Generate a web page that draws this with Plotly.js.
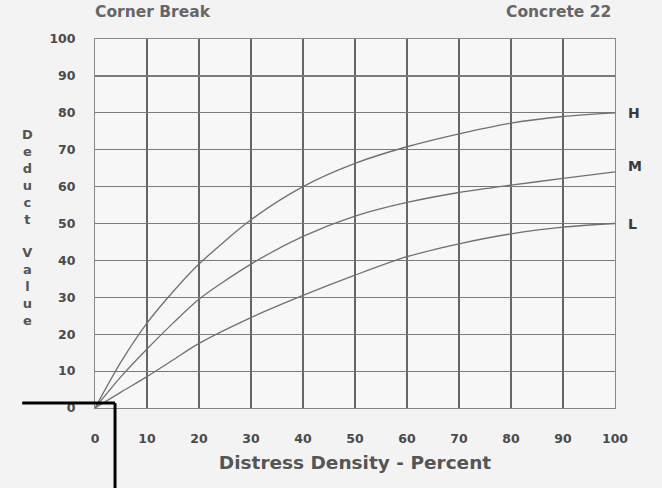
<!DOCTYPE html>
<html>
<head>
<meta charset="utf-8">
<script src="https://cdn.plot.ly/plotly-3.0.1.min.js"></script>
<style>html,body{margin:0;padding:0;background:#f3f3f3;}#chart{width:662px;height:488px;}</style>
</head>
<body>
<div id="chart"></div>
<script>
// Distress density (percent)
const density = [0, 5, 10, 15, 20, 30, 40, 50, 60, 70, 80, 90, 100];
// Deduct values per severity level
const highSeverity   = [0, 12.5, 23, 31.5, 39, 51, 60, 66.3, 70.8, 74.3, 77.2, 79, 80];
const mediumSeverity = [0, 8.5, 16, 23, 29.5, 39, 46.5, 52, 55.7, 58.4, 60.4, 62.2, 64];
const lowSeverity    = [0, 4.3, 8.5, 13, 17.5, 24.5, 30.5, 36, 41, 44.5, 47.2, 49, 50];
const severityLabels = ['H', 'M', 'L'];
const xTicks = [0, 10, 20, 30, 40, 50, 60, 70, 80, 90, 100];
const yTicks = [0, 10, 20, 30, 40, 50, 60, 70, 80, 90, 100];
const chartTitle = 'Corner Break';
const chartSubtitle = 'Concrete 22';
const xTitle = 'Distress Density - Percent';
const yTitleLetters = ['D','e','d','u','c','t','','V','a','l','u','e'];

const FONT = 'DejaVu Sans, Liberation Sans, Arial';
const series = [highSeverity, mediumSeverity, lowSeverity];
const lineStyle = {color: '#707070', width: 1.3, shape: 'spline', smoothing: 0.8};

const traces = series.map((vals, i) => ({
  x: density, y: vals, type: 'scatter', mode: 'lines',
  line: lineStyle, name: severityLabels[i], hoverinfo: 'x+y'
}));

const annotations = series.map((vals, i) => ({
  x: density[density.length - 1], y: vals[vals.length - 1] + (i === 1 ? 1.5 : 0),
  xref: 'x', yref: 'y', text: '<b>' + severityLabels[i] + '</b>', showarrow: false,
  xanchor: 'left', xshift: 11, font: {family: FONT, size: 14, color: '#3a3a3a'}
}));
annotations.push({
  xref: 'paper', yref: 'paper', x: 0, y: 1, xanchor: 'left', yanchor: 'bottom',
  yshift: 16, xshift: -2, text: '<b>' + chartTitle + '</b>', showarrow: false,
  font: {family: FONT, size: 15.5, color: '#666'}
});
annotations.push({
  xref: 'paper', yref: 'paper', x: 1, y: 1, xanchor: 'right', yanchor: 'bottom',
  yshift: 16, xshift: -2, text: '<b>' + chartSubtitle + '</b>', showarrow: false,
  font: {family: FONT, size: 15.5, color: '#666'}
});
annotations.push({
  xref: 'paper', yref: 'paper', x: -0.129, y: 0.489, xanchor: 'center', yanchor: 'middle',
  text: '<b>' + yTitleLetters.join('<br>') + '</b>', showarrow: false,
  font: {family: FONT, size: 13, color: '#555'}
});

const layout = {
  width: 662, height: 488,
  margin: {l: 95, r: 47, t: 39, b: 80},
  paper_bgcolor: '#f3f3f3', plot_bgcolor: '#f7f7f7',
  showlegend: false,
  xaxis: {
    range: [0, 100], tickvals: xTicks, ticktext: xTicks.map(v => '<b>' + v + '</b>'),
    showgrid: true, gridcolor: '#666', gridwidth: 1.4,
    zeroline: false, showline: true, linecolor: '#888', linewidth: 1, mirror: true,
    ticks: '', ticklabelstandoff: 19,
    tickfont: {family: FONT, size: 12.5, color: '#4a4a4a'},
    title: {text: '<b>' + xTitle + '</b>', standoff: 11, font: {family: FONT, size: 18.5, color: '#555'}}
  },
  yaxis: {
    range: [0, 100], tickvals: yTicks, ticktext: yTicks.map(v => '<b>' + v + '</b>'),
    showgrid: true, gridcolor: '#7a7a7a', gridwidth: 1.2,
    zeroline: false, showline: true, linecolor: '#888', linewidth: 1, mirror: true,
    ticks: '', ticklabelstandoff: 16,
    tickfont: {family: FONT, size: 12.5, color: '#4a4a4a'}
  },
  annotations: annotations,
  shapes: [
    {type: 'line', xref: 'paper', yref: 'paper', x0: -0.140, x1: 0.0385, y0: 0.0136, y1: 0.0136,
     line: {color: '#000', width: 3}},
    {type: 'line', xref: 'paper', yref: 'paper', x0: 0.0385, x1: 0.0385, y0: 0.0136, y1: -0.22,
     line: {color: '#000', width: 3}}
  ]
};

Plotly.newPlot('chart', traces, layout, {displayModeBar: false, staticPlot: true});
</script>
</body>
</html>
